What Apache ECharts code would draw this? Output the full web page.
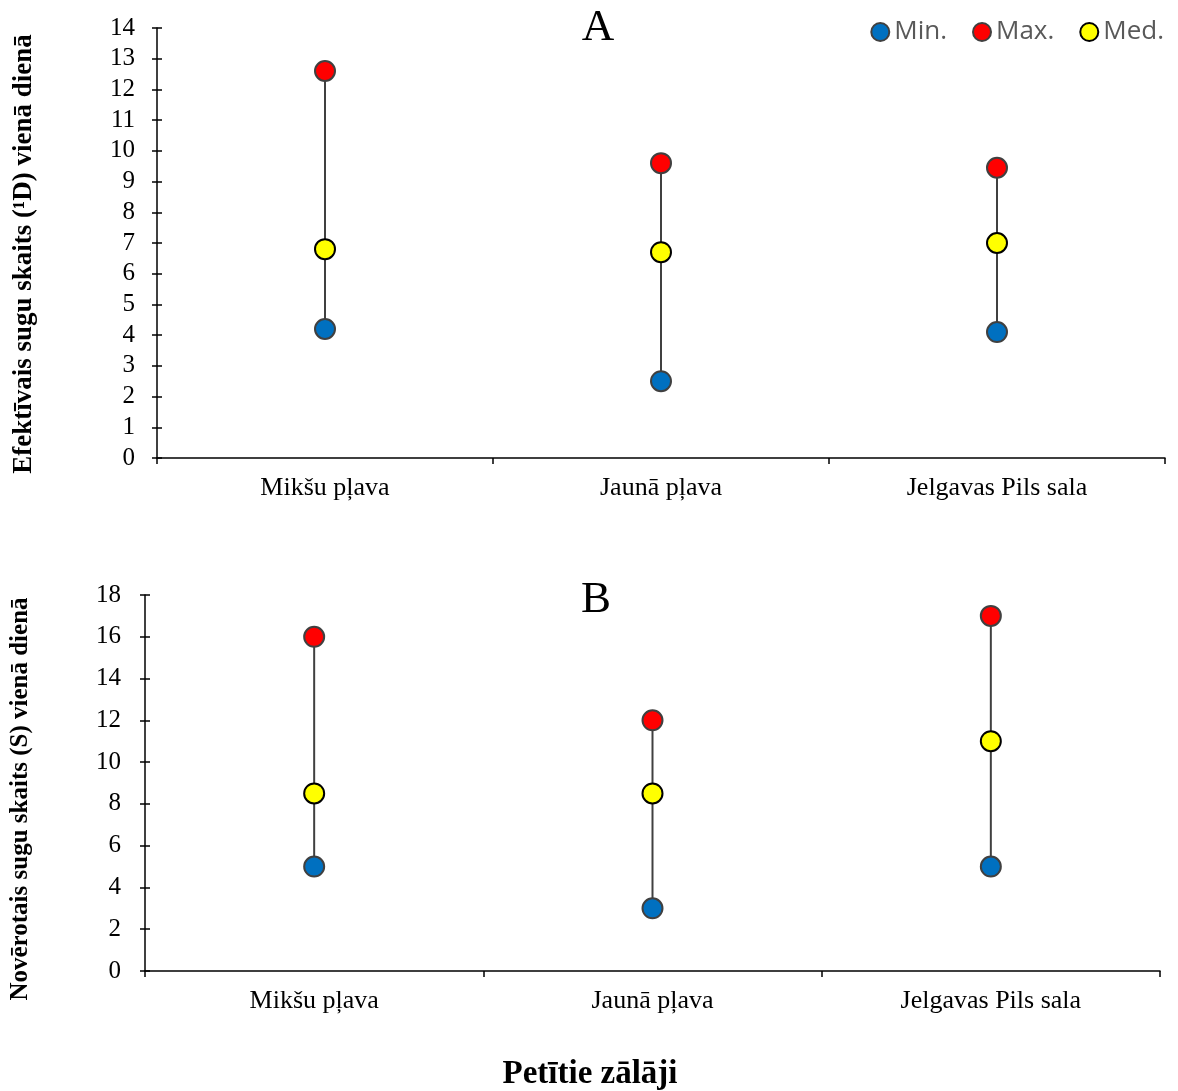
<!DOCTYPE html>
<html>
<head>
<meta charset="utf-8">
<script src="https://cdn.jsdelivr.net/npm/echarts@6/dist/echarts.min.js"></script>
<style>
  html, body { margin: 0; padding: 0; background: #fff; }
  #chart { width: 1178px; height: 1091px; }
</style>
</head>
<body>
<div id="chart"></div>
<script>
// Grassland sites
const categories = ['Mikšu pļava', 'Jaunā pļava', 'Jelgavas Pils sala'];

// Panel A: effective number of species (¹D) per day
const effMin = [4.2, 2.5, 4.1];
const effMax = [12.6, 9.6, 9.45];
const effMed = [6.8, 6.7, 7.0];

// Panel B: observed number of species (S) per day
const obsMin = [5, 3, 5];
const obsMax = [16, 12, 17];
const obsMed = [8.5, 8.5, 11];

const serif = 'Liberation Serif';
const colMin = '#0070C0', colMax = '#FF0000', colMed = '#FFFF00';

function rangeData(mins, maxs) {
  return categories.map((c, i) => [i, mins[i], maxs[i]]);
}

// vertical segment joining min and max of each site
function rangeSeries(idx, mins, maxs) {
  return {
    type: 'custom',
    xAxisIndex: idx, yAxisIndex: idx * 2,
    silent: true, z: 1,
    data: rangeData(mins, maxs),
    renderItem: function (params, api) {
      const lo = api.coord([api.value(0), api.value(1)]);
      const hi = api.coord([api.value(0), api.value(2)]);
      return {
        type: 'line',
        shape: { x1: lo[0], y1: lo[1], x2: hi[0], y2: hi[1] },
        style: { stroke: '#404040', lineWidth: 2 }
      };
    }
  };
}

function pointSeries(idx, name, values, fill, border) {
  return {
    type: 'scatter', name: name,
    xAxisIndex: idx, yAxisIndex: idx * 2,
    symbol: 'circle', symbolSize: 20, z: 3,
    itemStyle: { color: fill, borderColor: border, borderWidth: 2, opacity: 1 },
    data: values.map((v, i) => [i, v])
  };
}

function xAxisFor(idx) {
  return {
    type: 'category', gridIndex: idx, data: categories,
    boundaryGap: true,
    axisLine: { lineStyle: { color: '#000', width: 1.5 } },
    axisTick: { show: true, length: 6, alignWithLabel: false, lineStyle: { color: '#000', width: 1.5 } },
    axisLabel: { color: '#000', fontFamily: serif, fontSize: 26, margin: 17 },
    splitLine: { show: false }
  };
}

function yAxesFor(idx, max, interval, margin) {
  const base = {
    type: 'value', gridIndex: idx, min: 0, max: max, interval: interval,
    position: 'left', splitLine: { show: false }
  };
  return [
    Object.assign({}, base, {
      axisLine: { show: true, lineStyle: { color: '#000', width: 1.5 } },
      axisTick: { show: true, length: 5, lineStyle: { color: '#000', width: 1.5 } },
      axisLabel: { color: '#000', fontFamily: serif, fontSize: 25, margin: margin }
    }),
    // inner half of the crossing tick marks
    Object.assign({}, base, {
      axisLine: { show: false },
      axisTick: { show: true, inside: true, length: 5, lineStyle: { color: '#000', width: 1.5 } },
      axisLabel: { show: false }
    })
  ];
}

const chart = echarts.init(document.getElementById('chart'));
chart.setOption({
  animation: false,
  backgroundColor: '#fff',
  legend: {
    data: ['Min.', 'Max.', 'Med.'],
    top: 14, right: 9,
    itemWidth: 18, itemHeight: 18, itemGap: 25,
    icon: 'circle',
    textStyle: { fontFamily: 'Open Sans', fontSize: 26, color: '#595959' }
  },
  grid: [
    { left: 157, top: 28, width: 1008, height: 430 },
    { left: 145, top: 595, width: 1015, height: 376 }
  ],
  xAxis: [xAxisFor(0), xAxisFor(1)],
  yAxis: [].concat(yAxesFor(0, 14, 1, 22), yAxesFor(1, 18, 2, 24)),
  series: [
    rangeSeries(0, effMin, effMax),
    pointSeries(0, 'Min.', effMin, colMin, '#404040'),
    pointSeries(0, 'Max.', effMax, colMax, '#404040'),
    pointSeries(0, 'Med.', effMed, colMed, '#000000'),
    rangeSeries(1, obsMin, obsMax),
    pointSeries(1, 'Min.', obsMin, colMin, '#404040'),
    pointSeries(1, 'Max.', obsMax, colMax, '#404040'),
    pointSeries(1, 'Med.', obsMed, colMed, '#000000')
  ],
  graphic: [
    { type: 'text', x: 598, y: 28,
      style: { text: 'A', fontFamily: serif, fontSize: 45, fill: '#000', textAlign: 'center', textVerticalAlign: 'middle' } },
    { type: 'text', x: 596, y: 600,
      style: { text: 'B', fontFamily: serif, fontSize: 45, fill: '#000', textAlign: 'center', textVerticalAlign: 'middle' } },
    { type: 'text', x: 24, y: 254, rotation: Math.PI / 2,
      style: { text: 'Efektīvais sugu skaits (¹D) vienā dienā', fontFamily: serif, fontWeight: 'bold',
               fontSize: 27, fill: '#000', textAlign: 'center', textVerticalAlign: 'middle' } },
    { type: 'text', x: 21, y: 799, rotation: Math.PI / 2,
      style: { text: 'Novērotais sugu skaits (S) vienā dienā', fontFamily: serif, fontWeight: 'bold',
               fontSize: 25, fill: '#000', textAlign: 'center', textVerticalAlign: 'middle' } },
    { type: 'text', x: 590, y: 1074,
      style: { text: 'Petītie zālāji', fontFamily: serif, fontWeight: 'bold',
               fontSize: 33, fill: '#000', textAlign: 'center', textVerticalAlign: 'middle' } }
  ]
});
</script>
</body>
</html>
